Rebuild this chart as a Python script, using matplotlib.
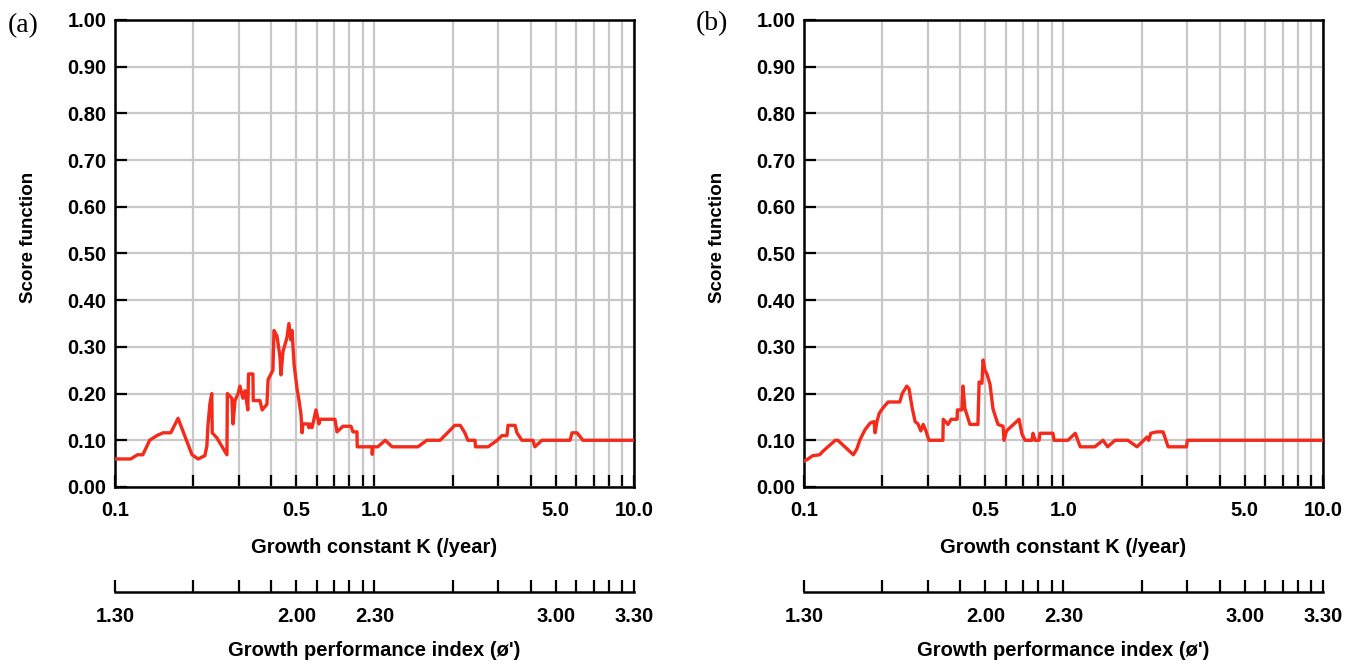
import matplotlib
matplotlib.use('Agg')
import matplotlib.pyplot as plt

plt.rcParams['font.family'] = ['Liberation Sans', 'DejaVu Sans']
plt.rcParams['font.weight'] = 'bold'
plt.rcParams['axes.labelweight'] = 'bold'

# --- data ---
k_a = [0.100, 0.115, 0.122, 0.128, 0.136, 0.145, 0.153, 0.164, 0.175, 0.198, 0.209, 0.222, 0.226, 0.228,
       0.232, 0.236, 0.237, 0.247, 0.270, 0.271, 0.282, 0.285, 0.290, 0.298, 0.303, 0.311, 0.317, 0.325,
       0.327, 0.340, 0.341, 0.362, 0.369, 0.385, 0.389, 0.406, 0.410, 0.421, 0.432, 0.436, 0.444, 0.460,
       0.468, 0.476, 0.481, 0.490, 0.503, 0.512, 0.521, 0.526, 0.530, 0.554, 0.559, 0.564, 0.574, 0.579,
       0.595, 0.611, 0.617, 0.704, 0.717, 0.756, 0.812, 0.826, 0.856, 0.858, 0.978, 0.980, 0.987, 1.03,
       1.10, 1.17, 1.47, 1.59, 1.79, 2.04, 2.14, 2.23, 2.29, 2.44, 2.45, 2.74, 2.97, 3.10, 3.24, 3.27,
       3.48, 3.54, 3.70, 4.08, 4.15, 4.42, 5.67, 5.77, 6.03, 6.36, 10.0]
score_a = [0.06, 0.06, 0.069, 0.069, 0.10, 0.11, 0.116, 0.116, 0.147, 0.069, 0.06, 0.067, 0.088, 0.13,
           0.177, 0.20, 0.116, 0.105, 0.069, 0.20, 0.19, 0.135, 0.185, 0.20, 0.216, 0.19, 0.206, 0.165,
           0.242, 0.242, 0.185, 0.185, 0.165, 0.177, 0.23, 0.25, 0.335, 0.323, 0.28, 0.24, 0.29, 0.32,
           0.35, 0.315, 0.335, 0.262, 0.21, 0.185, 0.155, 0.116, 0.135, 0.135, 0.127, 0.135, 0.127, 0.135,
           0.165, 0.135, 0.145, 0.145, 0.118, 0.13, 0.13, 0.118, 0.118, 0.086, 0.086, 0.07, 0.086, 0.086,
           0.10, 0.086, 0.086, 0.10, 0.10, 0.132, 0.132, 0.116, 0.10, 0.10, 0.086, 0.086, 0.10, 0.11, 0.11, 0.132,
           0.132, 0.116, 0.10, 0.10, 0.086, 0.10, 0.10, 0.116, 0.116, 0.10, 0.10]

k_b = [0.100, 0.103, 0.108, 0.115, 0.118, 0.132, 0.135, 0.155, 0.160, 0.164, 0.172, 0.180, 0.186, 0.188,
       0.191, 0.195, 0.202, 0.211, 0.234, 0.239, 0.249, 0.254, 0.261, 0.268, 0.275, 0.282, 0.288, 0.295,
       0.303, 0.343, 0.344, 0.359, 0.369, 0.389, 0.390, 0.406, 0.410, 0.417, 0.436, 0.468, 0.473, 0.485,
       0.490, 0.498, 0.507, 0.521, 0.535, 0.559, 0.585, 0.590, 0.603, 0.674, 0.692, 0.711, 0.756, 0.763,
       0.777, 0.805, 0.812, 0.911, 0.919, 1.04, 1.11, 1.16, 1.32, 1.42, 1.48, 1.58, 1.77, 1.92, 2.10,
       2.13, 2.17, 2.29, 2.42, 2.53, 2.98, 3.0, 10.0]
score_b = [0.055, 0.059, 0.067, 0.069, 0.076, 0.10, 0.10, 0.069, 0.082, 0.10, 0.123, 0.137, 0.14, 0.116,
           0.14, 0.158, 0.17, 0.182, 0.182, 0.20, 0.216, 0.21, 0.17, 0.14, 0.135, 0.12, 0.134, 0.12,
           0.10, 0.10, 0.145, 0.134, 0.145, 0.145, 0.165, 0.165, 0.216, 0.168, 0.134, 0.134, 0.225, 0.222,
           0.272, 0.25, 0.242, 0.22, 0.167, 0.134, 0.13, 0.10, 0.12, 0.145, 0.113, 0.10, 0.10, 0.115,
           0.10, 0.10, 0.115, 0.115, 0.10, 0.10, 0.115, 0.086, 0.086, 0.10, 0.086, 0.10, 0.10, 0.086, 0.107,
           0.10, 0.115, 0.118, 0.118, 0.086, 0.086, 0.10, 0.10]

# axis ticks
k_ticks = [0.1, 0.2, 0.3, 0.4, 0.5, 0.6, 0.7, 0.8, 0.9, 1.0, 2.0, 3.0, 4.0, 5.0, 6.0, 7.0, 8.0, 9.0, 10.0]
k_labels = {0.1: '0.1', 0.5: '0.5', 1.0: '1.0', 5.0: '5.0', 10.0: '10.0'}
phi_labels = {0.1: '1.30', 0.5: '2.00', 1.0: '2.30', 5.0: '3.00', 10.0: '3.30'}  # phi' = log K + 2 log Linf
score_ticks = [0.0, 0.1, 0.2, 0.3, 0.4, 0.5, 0.6, 0.7, 0.8, 0.9, 1.0]

LINE_COLOR = '#f42a1b'
GRID_COLOR = '#c8c8c8'

fig = plt.figure(figsize=(13.6, 6.64), dpi=100)


def draw_panel(left, k, score, tag, tag_xy):
    ax = fig.add_axes([left, 0.2666, 0.3816, 0.7033])
    ax.plot(k, score, color=LINE_COLOR, lw=2.4, zorder=3)
    ax.set_xscale('log')
    ax.set_xlim(0.1, 10.0)
    ax.set_ylim(0.0, 1.0)
    ax.set_xticks(k_ticks)
    ax.set_xticklabels([k_labels.get(t, '') for t in k_ticks])
    ax.xaxis.set_minor_locator(plt.NullLocator())
    ax.set_yticks(score_ticks)
    ax.set_yticklabels(['%.2f' % t for t in score_ticks])
    ax.grid(True, color=GRID_COLOR, lw=1.6)
    ax.tick_params(axis='y', direction='in', length=8.5, width=1.6, labelsize=14.5, pad=6)
    ax.tick_params(axis='x', direction='in', length=8.5, width=1.6, labelsize=14.5, pad=10)
    for spine in ax.spines.values():
        spine.set_linewidth(1.8)
    ax.set_ylabel('Score function', fontsize=13.5)
    ax.yaxis.set_label_coords(-0.150, 0.535)
    ax.set_xlabel('Growth constant K (/year)', fontsize=14.5)
    ax.xaxis.set_label_coords(0.5, -0.110)

    # growth performance index axis, same log K positions
    ax2 = fig.add_axes([left, 1 - 592 / 664, 0.3816, 0.02])
    ax2.set_facecolor('none')
    ax2.set_xscale('log')
    ax2.set_xlim(0.1, 10.0)
    ax2.set_xticks(k_ticks)
    ax2.set_xticklabels([phi_labels.get(t, '') for t in k_ticks])
    ax2.xaxis.set_minor_locator(plt.NullLocator())
    ax2.set_yticks([])
    for s in ('top', 'left', 'right'):
        ax2.spines[s].set_visible(False)
    ax2.spines['bottom'].set_linewidth(1.8)
    ax2.tick_params(direction='in', length=8.5, width=1.6, labelsize=14.5, pad=11)
    fig.text(left + 0.3816 / 2, 1 - 651 / 664, "Growth performance index (ø')", fontsize=14.5,
             ha='center', va='center')

    fig.text(tag_xy[0] / 1360, 1 - tag_xy[1] / 664, tag, family=['Liberation Serif', 'DejaVu Serif'],
             weight='normal', fontsize=20, ha='center', va='center')
    return ax


draw_panel(115 / 1360, k_a, score_a, '(a)', (23, 26))
draw_panel(804 / 1360, k_b, score_b, '(b)', (712, 24))

plt.savefig('out.png', dpi=100)
